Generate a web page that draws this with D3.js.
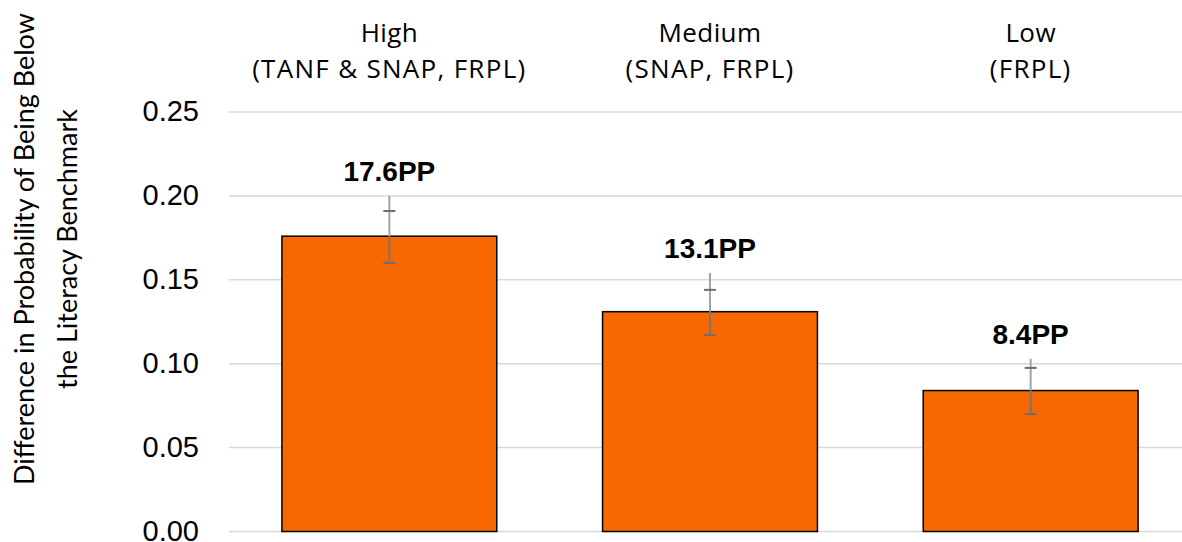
<!DOCTYPE html>
<html><head><meta charset="utf-8">
<script src="https://cdn.jsdelivr.net/npm/d3@7"></script>
<style>body{margin:0;background:#fff}svg{display:block}</style>
</head><body>
<svg id="c" width="1182" height="542"></svg>
<script>
const categories = ["High", "Medium", "Low"];
const subLabels = ["(TANF & SNAP, FRPL)", "(SNAP, FRPL)", "(FRPL)"];
const values = [0.176, 0.131, 0.084];
const errLow = [0.160, 0.117, 0.070];
const errHigh = [0.191, 0.144, 0.0975];
const whiskerTop = [0.200, 0.154, 0.103];
const valueLabels = ["17.6PP", "13.1PP", "8.4PP"];
const yTicks = [0, 0.05, 0.10, 0.15, 0.20, 0.25];
const yTitle = ["Difference in Probability of Being Below", "the Literacy Benchmark"];

const svg = d3.select("#c");
const x = d3.scaleBand().domain(categories).range([229, 1191]).paddingInner(0.33).paddingOuter(0.165);
const y = d3.scaleLinear().domain([0, 0.25]).range([531.5, 112]);

// gridlines
svg.append("g").selectAll("line").data(yTicks).join("line")
  .attr("x1", 229).attr("x2", 1182)
  .attr("y1", d => y(d)).attr("y2", d => y(d))
  .attr("stroke", "#d9d9d9").attr("stroke-width", 1.5);

// tick labels
const yAxis = d3.axisLeft(y).tickValues(yTicks).tickFormat(d3.format(".2f")).tickSize(0).tickPadding(0);
const ga = svg.append("g").attr("transform", "translate(199,0)").call(yAxis);
ga.select(".domain").remove();
ga.selectAll("text").attr("font-family", "Liberation Sans, Arial, sans-serif").attr("font-size", 29).attr("fill", "#000").attr("dy", "0.30em");

// bars
svg.append("g").selectAll("rect").data(values).join("rect")
  .attr("x", (d, i) => x(categories[i]))
  .attr("width", x.bandwidth())
  .attr("y", d => y(d))
  .attr("height", d => y(0) - y(d))
  .attr("fill", "#f76900").attr("stroke", "#000").attr("stroke-width", 1.5);

// error bars
const eg = svg.append("g");
categories.forEach((c, i) => {
  const cx = x(c) + x.bandwidth() / 2;
  eg.append("line").attr("x1", cx).attr("x2", cx).attr("y1", y(values[i])).attr("y2", y(whiskerTop[i]))
    .attr("stroke", "#a3a3a3").attr("stroke-width", 2);
  eg.append("line").attr("x1", cx).attr("x2", cx).attr("y1", y(errLow[i])).attr("y2", y(values[i]))
    .attr("stroke", "#767676").attr("stroke-width", 2);
  [errLow[i], errHigh[i]].forEach(v => {
    eg.append("line").attr("x1", cx - 6).attr("x2", cx + 6).attr("y1", y(v)).attr("y2", y(v))
      .attr("stroke", "#6e6e6e").attr("stroke-width", 2);
  });
  svg.append("text").attr("x", cx).attr("y", y(whiskerTop[i]) - 15)
    .attr("text-anchor", "middle").attr("font-family", "Liberation Sans, Arial, sans-serif")
    .attr("font-weight", "bold").attr("font-size", 28).attr("fill", "#000").text(valueLabels[i]);
  const t = svg.append("text").attr("text-anchor", "middle").attr("font-family", "Open Sans, sans-serif")
    .attr("font-size", 26).attr("fill", "#000");
  t.append("tspan").attr("x", cx).attr("y", 42).attr("letter-spacing", 0.4).text(c);
  t.append("tspan").attr("x", cx).attr("y", 78).attr("letter-spacing", 1.3).text(subLabels[i]);
});

// y title
const yt = svg.append("text").attr("transform", "translate(0,249) rotate(-90)")
  .attr("text-anchor", "middle").attr("font-family", "Lato, sans-serif").attr("font-size", 27).attr("fill", "#000");
yt.append("tspan").attr("x", 0).attr("y", 34).text(yTitle[0]);
yt.append("tspan").attr("x", 0).attr("y", 77).text(yTitle[1]);
</script>
</body></html>
